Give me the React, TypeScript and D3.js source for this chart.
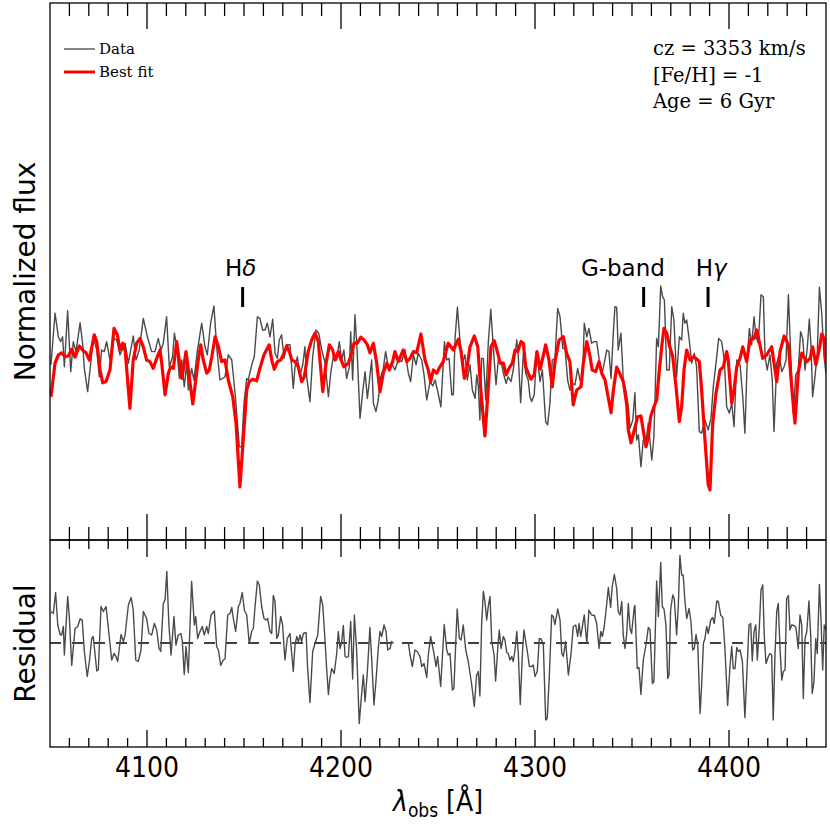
import React from "react";
import * as d3 from "d3";

// ---------------- data ----------------
const dataWave = [
  4050.5, 4052.6, 4054.3, 4055.5, 4056.5, 4057.4, 4059.1, 4060.7, 4062.0, 4063.4, 4065.5, 4066.8, 4067.7, 4069.4, 4071.0, 4072.3,
  4074.1, 4075.4, 4076.6, 4078.0, 4079.2, 4080.9, 4082.6, 4084.4, 4086.1, 4088.7, 4090.4, 4092.9, 4094.3, 4096.0, 4098.1, 4100.2,
  4102.4, 4104.1, 4105.8, 4107.2, 4108.4, 4110.1, 4111.5, 4113.2, 4114.1, 4115.3, 4116.7, 4117.9, 4119.2, 4120.5, 4121.3, 4123.0,
  4124.2, 4125.9, 4128.2, 4129.9, 4131.1, 4132.8, 4134.5, 4135.9, 4137.6, 4140.2, 4141.9, 4143.7, 4145.4, 4147.6, 4148.8, 4150.0,
  4151.4, 4152.2, 4154.0, 4155.3, 4156.9, 4158.2, 4159.6, 4160.8, 4162.0, 4163.4, 4164.8, 4166.0, 4167.2, 4168.2, 4169.4, 4170.6,
  4172.0, 4173.7, 4175.4, 4176.3, 4177.5, 4178.9, 4180.3, 4181.4, 4182.3, 4184.0, 4185.4, 4187.1, 4188.5, 4190.1, 4191.8, 4193.5,
  4194.7, 4196.0, 4197.8, 4199.1, 4200.4, 4201.5, 4202.9, 4204.3, 4205.0, 4206.0, 4207.2, 4208.4, 4209.8, 4211.2, 4212.4, 4213.6,
  4214.6, 4215.8, 4216.7, 4218.0, 4219.2, 4220.5, 4221.8, 4223.0, 4224.4, 4226.1, 4227.8, 4229.5, 4231.3, 4233.0, 4234.7, 4235.9,
  4237.3, 4238.7, 4239.8, 4241.6, 4242.8, 4244.2, 4245.9, 4247.3, 4248.5, 4249.7, 4251.5, 4253.3, 4254.5, 4255.7, 4257.1, 4257.9,
  4258.8, 4260.0, 4261.3, 4262.5, 4263.9, 4265.1, 4266.5, 4267.7, 4269.1, 4270.0, 4270.8, 4271.6, 4272.5, 4273.4, 4274.6, 4275.9,
  4277.2, 4278.5, 4279.9, 4281.1, 4282.5, 4283.7, 4285.1, 4286.2, 4287.6, 4288.8, 4290.6, 4291.4, 4292.6, 4294.0, 4295.2, 4296.5,
  4297.4, 4298.3, 4299.6, 4300.9, 4302.6, 4303.8, 4305.5, 4306.5, 4307.7, 4308.9, 4310.3, 4311.7, 4312.9, 4314.3, 4315.5, 4316.8,
  4318.0, 4319.2, 4320.6, 4322.0, 4323.2, 4324.4, 4325.4, 4326.7, 4327.8, 4329.2, 4330.6, 4331.8, 4333.0, 4334.4, 4335.7, 4337.0,
  4338.1, 4339.2, 4340.4, 4341.2, 4342.1, 4342.9, 4344.3, 4345.5, 4346.8, 4348.1, 4349.0, 4350.4, 4351.5, 4352.4, 4353.3, 4354.6,
  4355.8, 4357.2, 4358.4, 4360.2, 4361.3, 4362.7, 4363.6, 4364.8, 4365.8, 4366.7, 4367.9, 4369.2, 4370.5, 4371.6, 4373.0, 4374.4,
  4375.6, 4376.4, 4377.3, 4378.2, 4379.5, 4380.8, 4382.1, 4383.3, 4384.7, 4385.9, 4387.6, 4389.3, 4390.7, 4391.9, 4393.3, 4394.7,
  4396.2, 4397.6, 4398.8, 4400.2, 4401.4, 4402.6, 4404.0, 4405.7, 4407.1, 4408.2, 4409.4, 4410.5, 4411.7, 4412.9, 4413.9, 4415.1,
  4416.5, 4417.7, 4418.6, 4419.7, 4421.1, 4422.3, 4423.2, 4424.6, 4425.9, 4427.2, 4428.4, 4429.4, 4430.6, 4431.8, 4433.1, 4434.4,
  4435.7, 4436.9, 4438.0, 4439.2, 4440.4, 4441.4, 4442.3, 4443.1, 4444.3, 4445.5, 4446.6, 4447.8, 4449.0, 4450.0,
];
const dataFlux = [
  0.938, 1.067, 1.008, 0.996, 1.008, 0.933, 1.073, 0.921, 0.996, 0.971, 1.043, 0.992, 0.929, 0.871, 0.942, 1.008,
  0.975, 0.908, 0.975, 0.971, 0.996, 0.950, 1.004, 1.000, 0.963, 0.992, 0.942, 1.010, 0.950, 0.975, 1.054, 1.008,
  0.971, 0.971, 1.004, 0.975, 0.992, 1.058, 0.933, 0.958, 1.017, 0.983, 0.904, 0.950, 0.883, 0.942, 0.875, 0.929,
  0.900, 0.971, 1.042, 0.983, 0.963, 1.042, 1.085, 0.983, 0.900, 0.908, 0.963, 0.950, 0.867, 0.733, 0.733, 0.842,
  0.904, 0.900, 0.938, 0.958, 1.058, 1.054, 1.025, 1.025, 1.042, 1.008, 1.052, 0.967, 0.954, 1.000, 1.013, 0.954,
  0.988, 0.988, 0.879, 0.933, 0.958, 0.913, 0.938, 0.983, 0.908, 0.846, 0.958, 1.025, 1.017, 0.975, 0.942, 0.858,
  0.917, 0.958, 0.950, 0.996, 0.950, 0.975, 0.904, 0.933, 1.021, 0.900, 1.063, 0.963, 0.804, 0.871, 0.921, 0.854,
  0.896, 0.950, 0.842, 0.821, 0.850, 0.908, 0.929, 0.971, 0.933, 0.942, 0.925, 0.950, 0.946, 0.975, 0.917, 0.896,
  0.963, 0.938, 0.967, 0.950, 0.913, 0.850, 0.896, 0.885, 0.900, 0.875, 0.833, 0.996, 0.950, 0.954, 0.863, 0.863,
  1.004, 1.082, 1.000, 0.942, 0.963, 0.900, 0.938, 0.875, 0.854, 0.913, 0.883, 0.800, 0.954, 0.954, 0.850, 0.992,
  1.077, 0.983, 0.888, 0.950, 0.946, 0.917, 0.892, 0.908, 0.896, 0.925, 1.000, 0.958, 0.843, 0.967, 0.917, 0.900,
  0.858, 0.846, 0.863, 0.971, 0.896, 0.925, 0.796, 0.788, 0.842, 0.950, 0.954, 1.079, 1.058, 0.979, 0.979, 0.900,
  0.875, 0.892, 0.888, 0.929, 0.900, 0.892, 1.042, 1.008, 1.029, 0.992, 0.996, 0.996, 0.954, 0.913, 0.942, 0.975,
  0.971, 0.904, 1.021, 1.083, 1.082, 0.975, 1.017, 0.900, 0.875, 0.833, 0.779, 0.800, 0.868, 0.750, 0.763, 0.683,
  0.750, 0.746, 0.792, 0.700, 0.758, 1.004, 0.983, 1.135, 1.108, 1.100, 0.925, 0.925, 1.083, 1.050, 0.908, 1.008,
  1.000, 1.067, 1.042, 1.050, 1.000, 0.942, 0.967, 0.933, 0.771, 0.767, 0.800, 0.775, 0.804, 0.883, 0.942, 1.004,
  0.996, 0.950, 0.833, 0.817, 0.842, 0.783, 0.950, 0.938, 0.858, 0.767, 0.950, 1.029, 0.988, 1.058, 1.008, 0.992,
  1.113, 1.108, 0.958, 0.925, 0.963, 0.900, 0.771, 0.942, 0.963, 0.921, 0.933, 0.950, 1.113, 0.967, 0.817, 0.913,
  0.925, 1.021, 1.004, 0.925, 0.983, 1.052, 0.983, 0.858, 0.908, 0.967, 1.132, 1.067, 0.958, 0.917,
];

const fitWave = [
  4050.5, 4052.6, 4054.3, 4056.0, 4057.7, 4059.4, 4061.2, 4062.9, 4065.1, 4067.2, 4068.6, 4070.3, 4072.8, 4074.1, 4075.8, 4077.2,
  4078.9, 4080.9, 4083.0, 4084.7, 4086.1, 4087.5, 4088.8, 4091.2, 4092.9, 4094.7, 4096.4, 4098.1, 4099.8, 4101.5, 4103.2, 4105.0,
  4106.7, 4107.6, 4109.3, 4111.0, 4112.2, 4113.6, 4115.3, 4116.7, 4117.9, 4118.7, 4120.1, 4121.8, 4123.6, 4124.7, 4126.4, 4127.7,
  4129.0, 4130.8, 4132.1, 4133.4, 4135.1, 4136.8, 4138.5, 4140.2, 4141.9, 4144.2, 4145.9, 4147.9, 4149.6, 4151.4, 4152.7, 4154.5,
  4156.5, 4158.2, 4160.3, 4163.0, 4164.3, 4165.6, 4167.2, 4168.9, 4170.3, 4172.0, 4173.4, 4174.6, 4176.3, 4178.0, 4179.7, 4181.1,
  4183.1, 4184.9, 4186.6, 4188.3, 4190.6, 4192.3, 4194.0, 4195.7, 4196.9, 4198.6, 4200.4, 4201.5, 4203.8, 4205.5, 4206.7, 4208.4,
  4210.2, 4211.9, 4213.6, 4214.9, 4216.7, 4218.4, 4220.1, 4221.8, 4223.6, 4224.9, 4226.6, 4227.8, 4229.5, 4232.1, 4233.9, 4235.6,
  4237.3, 4239.0, 4241.2, 4243.3, 4245.0, 4246.2, 4247.6, 4249.3, 4251.0, 4252.7, 4255.3, 4256.7, 4257.9, 4260.5, 4261.9, 4263.6,
  4264.8, 4266.5, 4268.7, 4270.5, 4272.2, 4274.2, 4275.6, 4277.3, 4279.0, 4280.8, 4282.0, 4283.7, 4285.1, 4286.6, 4288.3, 4289.7,
  4291.1, 4292.8, 4294.0, 4295.2, 4296.5, 4297.9, 4299.6, 4301.0, 4302.7, 4305.5, 4307.2, 4308.9, 4310.3, 4312.4, 4314.6, 4316.3,
  4318.0, 4319.7, 4321.5, 4323.7, 4324.9, 4326.7, 4328.4, 4329.5, 4331.3, 4333.0, 4334.4, 4336.1, 4337.5, 4339.2, 4340.4, 4342.1,
  4343.8, 4345.5, 4347.3, 4348.1, 4349.5, 4351.2, 4352.9, 4354.6, 4355.5, 4357.2, 4358.4, 4359.6, 4361.3, 4362.7, 4364.1, 4365.3,
  4366.5, 4367.9, 4369.2, 4371.0, 4372.7, 4374.4, 4375.6, 4376.8, 4378.2, 4379.9, 4381.6, 4383.0, 4384.7, 4385.9, 4387.6, 4389.3,
  4390.2, 4391.6, 4393.3, 4395.4, 4397.1, 4398.8, 4399.6, 4401.4, 4402.6, 4404.0, 4405.7, 4407.1, 4409.1, 4410.8, 4412.9, 4414.3,
  4415.6, 4417.4, 4419.4, 4422.0, 4424.6, 4426.3, 4428.4, 4430.6, 4432.3, 4434.0, 4435.7, 4437.5, 4440.1, 4441.8, 4443.1, 4444.8,
  4446.6, 4447.8, 4449.0, 4450.0,
];
const fitFlux = [
  0.858, 0.942, 0.963, 0.968, 0.958, 0.960, 0.977, 0.957, 0.985, 0.973, 0.968, 0.950, 1.013, 0.996, 0.925, 0.893,
  0.896, 0.925, 1.029, 1.013, 0.975, 0.992, 0.971, 0.829, 0.950, 0.992, 1.004, 0.983, 0.950, 0.946, 0.929, 0.954,
  0.975, 0.942, 0.863, 0.917, 0.933, 0.929, 0.996, 0.946, 0.904, 0.925, 0.971, 0.908, 0.840, 0.883, 0.950, 0.988,
  0.950, 0.917, 0.925, 0.958, 1.008, 0.983, 0.946, 0.950, 0.900, 0.858, 0.792, 0.633, 0.750, 0.875, 0.896, 0.902,
  0.898, 0.929, 0.963, 0.988, 0.950, 0.927, 0.946, 0.950, 0.963, 0.985, 0.971, 0.950, 0.946, 0.933, 0.896, 0.908,
  0.971, 1.000, 1.017, 0.996, 0.871, 0.942, 0.988, 0.975, 0.950, 0.971, 0.946, 0.933, 0.942, 0.967, 0.992, 0.992,
  1.007, 1.000, 0.988, 0.968, 0.992, 0.942, 0.871, 0.917, 0.942, 0.925, 0.946, 0.971, 0.946, 0.975, 0.946, 0.954,
  0.971, 0.968, 1.015, 0.950, 0.925, 0.896, 0.925, 0.917, 0.933, 0.946, 0.992, 0.983, 0.975, 1.002, 0.971, 0.904,
  0.925, 0.983, 1.010, 0.983, 0.867, 0.760, 0.858, 0.983, 0.998, 0.967, 0.942, 0.942, 0.913, 0.929, 0.942, 0.975,
  0.971, 0.996, 0.992, 0.933, 0.917, 0.902, 0.913, 0.971, 0.927, 0.988, 0.950, 0.883, 0.946, 1.000, 1.008, 0.967,
  0.946, 0.838, 0.875, 0.883, 0.942, 0.996, 0.958, 0.925, 0.921, 0.946, 0.917, 0.900, 0.863, 0.818, 0.875, 0.932,
  0.915, 0.896, 0.838, 0.775, 0.743, 0.775, 0.808, 0.810, 0.783, 0.733, 0.758, 0.808, 0.833, 0.850, 0.925, 0.983,
  1.029, 1.017, 0.988, 0.958, 0.883, 0.796, 0.833, 0.925, 0.975, 0.950, 0.958, 0.954, 0.946, 0.875, 0.750, 0.638,
  0.625, 0.792, 0.867, 0.925, 0.933, 0.971, 0.950, 0.842, 0.875, 0.933, 0.954, 0.983, 0.946, 1.000, 1.004, 1.025,
  0.996, 0.954, 0.963, 0.983, 0.896, 0.971, 1.010, 0.988, 0.883, 0.792, 0.917, 0.967, 0.946, 0.954, 0.983, 0.938,
  0.979, 1.015, 1.004, 0.942,
];

// residual: null marks the masked gap (no wavelength entry is consumed by it)
const residWave = [
  4050.5, 4051.7, 4052.9, 4054.0, 4055.2, 4056.0, 4056.9, 4057.4, 4059.1, 4059.9, 4061.2, 4062.9, 4064.3, 4065.5, 4066.6, 4067.7,
  4069.2, 4070.3, 4071.5, 4072.3, 4074.1, 4074.9, 4076.3, 4077.5, 4078.9, 4080.1, 4081.8, 4083.0, 4084.0, 4084.9, 4086.6, 4087.8,
  4088.7, 4090.4, 4091.8, 4092.9, 4094.2, 4095.5, 4096.9, 4098.1, 4099.8, 4101.0, 4102.4, 4103.8, 4105.0, 4106.2, 4107.1, 4108.4,
  4109.3, 4110.2, 4111.3, 4112.4, 4113.9, 4114.9, 4116.1, 4117.5, 4118.2, 4119.2, 4120.1, 4121.3, 4123.0, 4124.4, 4125.1, 4126.1,
  4127.3, 4128.5, 4129.5, 4130.8, 4131.6, 4133.0, 4134.7, 4135.9, 4136.8, 4138.0, 4139.3, 4140.2, 4141.6, 4142.8, 4143.7, 4144.5,
  4145.7, 4147.1, 4147.9, 4149.1, 4150.2, 4150.5, 4151.4, 4152.7, 4154.0, 4154.8, 4155.7, 4156.9, 4157.9, 4159.1, 4160.3, 4161.3,
  4162.2, 4163.4, 4164.3, 4165.1, 4166.0, 4166.9, 4167.7, 4168.9, 4169.9, 4171.1, 4172.3, 4173.7, 4174.6, 4175.4, 4176.3, 4177.2,
  4178.0, 4178.9, 4179.7, 4180.6, 4182.0, 4182.8, 4184.0, 4185.4, 4186.6, 4188.0, 4189.5, 4190.6, 4191.8, 4192.6, 4193.5, 4194.3,
  4195.2, 4196.5, 4197.8, 4198.6, 4199.5, 4200.4, 4201.2, 4202.1, 4202.9, 4203.8, 4205.0, 4206.0, 4206.9, 4208.1, 4209.4, 4210.3,
  4211.5, 4212.4, 4213.6, 4214.9, 4215.8, 4217.0, 4218.0, 4219.2, 4220.1, 4221.0, 4222.2, 4223.2, 4224.1, 4225.3, 4226.1, 4227.0,
  4234.7, 4235.6, 4236.8, 4238.1, 4239.3, 4240.7, 4241.6, 4242.8, 4244.2, 4245.0, 4246.2, 4247.6, 4249.0, 4249.8, 4251.4, 4253.2,
  4254.5, 4255.3, 4256.2, 4257.4, 4258.2, 4259.1, 4259.9, 4261.0, 4261.9, 4263.0, 4264.3, 4265.6, 4267.4, 4268.7, 4269.9, 4270.8,
  4271.6, 4272.5, 4273.4, 4274.2, 4275.1, 4275.9, 4276.8, 4277.7, 4278.9, 4279.7, 4280.8, 4281.6, 4282.5, 4283.7, 4284.5, 4285.4,
  4286.2, 4287.1, 4288.0, 4288.8, 4289.7, 4290.6, 4291.4, 4292.4, 4293.5, 4294.3, 4295.4, 4296.2, 4297.1, 4298.3, 4299.1, 4300.0,
  4301.2, 4302.2, 4303.1, 4304.3, 4305.5, 4306.3, 4307.4, 4308.6, 4309.4, 4310.3, 4311.7, 4312.9, 4313.8, 4314.6, 4315.8, 4317.2,
  4318.6, 4319.7, 4321.0, 4322.0, 4322.7, 4323.6, 4324.6, 4325.4, 4326.7, 4327.8, 4329.2, 4330.6, 4331.8, 4333.0, 4333.9, 4334.7,
  4335.7, 4337.0, 4337.8, 4339.0, 4339.8, 4340.9, 4342.1, 4342.9, 4343.8, 4344.7, 4345.5, 4346.4, 4347.3, 4348.1, 4349.0, 4349.8,
  4351.2, 4351.5, 4352.7, 4353.6, 4354.6, 4355.8, 4357.2, 4358.4, 4359.3, 4360.5, 4361.3, 4362.7, 4363.6, 4364.8, 4365.6, 4366.5,
  4367.5, 4368.4, 4369.1, 4369.9, 4371.0, 4371.8, 4373.0, 4373.9, 4374.7, 4375.6, 4376.4, 4377.3, 4378.2, 4379.4, 4380.4, 4381.3,
  4382.1, 4383.0, 4383.9, 4385.1, 4385.9, 4386.8, 4387.6, 4388.5, 4389.3, 4390.6, 4391.6, 4392.4, 4393.7, 4394.5, 4395.7, 4396.8,
  4397.9, 4399.3, 4400.5, 4401.4, 4402.2, 4403.1, 4404.0, 4404.8, 4405.7, 4406.9, 4408.2, 4409.4, 4410.3, 4411.2, 4412.0, 4412.9,
  4413.8, 4414.6, 4415.6, 4416.5, 4417.4, 4418.2, 4419.1, 4420.3, 4421.1, 4422.0, 4422.8, 4423.7, 4424.6, 4425.4, 4426.3, 4427.2,
  4428.0, 4428.9, 4429.7, 4430.6, 4431.4, 4432.3, 4433.5, 4434.5, 4435.7, 4436.6, 4437.5, 4438.3, 4439.2, 4440.1, 4441.2, 4442.1,
  4442.9, 4443.8, 4444.7, 4445.5, 4446.6, 4447.4, 4448.3, 4449.1, 4450.0,
];
const residValue: (number | null)[] = [
  0.063, 0.059, 0.101, 0.036, 0.017, 0.016, 0.033, -0.024, 0.093, 0.056, -0.045, 0.029, 0.033, 0.048, 0.046, -0.017,
  -0.067, -0.037, 0.009, 0.013, -0.056, -0.054, 0.073, 0.063, 0.073, 0.029, -0.034, -0.021, -0.027, -0.037, 0.017, 0.003,
  0.016, 0.076, 0.091, 0.066, -0.034, -0.037, -0.014, 0.063, 0.049, 0.019, 0.016, 0.039, 0.026, -0.011, -0.017, 0.079,
  0.086, 0.143, 0.036, -0.024, 0.053, -0.004, 0.016, 0.019, 0.003, -0.063, -0.007, -0.059, 0.123, 0.036, 0.053, 0.009,
  0.023, 0.033, 0.016, 0.033, 0.019, 0.056, 0.064, -0.007, -0.014, -0.045, -0.034, -0.032, 0.056, 0.059, 0.071, 0.049,
  0.023, 0.073, 0.079, 0.101, 0.066, 0.063, 0.056, -0.001, 0.024, 0.029, 0.073, 0.124, 0.116, 0.073, 0.049, 0.046,
  0.049, 0.023, 0.019, 0.095, 0.083, 0.009, 0.016, 0.053, 0.036, -0.034, 0.009, 0.019, -0.021, -0.057, -0.004, 0.013,
  0.003, 0.016, 0.003, 0.019, 0.021, -0.051, -0.119, -0.017, -0.001, 0.016, 0.093, 0.076, 0.003, -0.051, -0.103, -0.071,
  -0.051, -0.061, -0.021, 0.023, -0.011, 0.003, 0.035, -0.027, -0.029, -0.027, 0.043, -0.072, 0.056, -0.017, -0.161, -0.117,
  -0.064, -0.117, -0.057, 0.031, -0.031, -0.124, -0.077, -0.011, 0.023, 0.013, 0.036, 0.023, -0.014, -0.011, 0.003, -0.001,
  null,
  0.001, -0.024, -0.047, -0.014, -0.017, -0.027, -0.047, -0.041, -0.069, -0.024, 0.013, -0.014, -0.047, -0.027, -0.087, 0.037,
  -0.014, -0.024, -0.021, -0.094, -0.091, -0.004, 0.068, 0.009, 0.006, 0.036, -0.014, -0.037, -0.084, -0.127, -0.064, -0.057,
  -0.106, 0.039, 0.103, 0.083, 0.046, 0.073, 0.093, 0.003, -0.024, -0.076, -0.011, 0.026, -0.011, 0.013, 0.006, -0.019,
  -0.021, -0.034, -0.027, -0.037, -0.014, 0.023, -0.021, -0.123, -0.021, 0.026, -0.001, -0.021, -0.047, -0.047, -0.044, -0.067,
  -0.056, 0.009, 0.008, -0.004, -0.154, -0.151, -0.064, 0.056, 0.053, 0.037, 0.068, 0.046, -0.021, -0.027, 0.003, -0.064,
  -0.021, 0.033, 0.036, 0.013, 0.039, 0.013, 0.037, 0.056, -0.001, 0.066, 0.056, 0.055, 0.039, -0.011, 0.023, 0.013,
  0.033, 0.079, 0.111, 0.071, 0.113, 0.137, 0.109, 0.063, 0.056, 0.083, 0.016, -0.011, 0.019, 0.079, 0.029, 0.019,
  0.073, 0.075, -0.051, -0.049, -0.103, -0.034, -0.004, 0.031, 0.026, -0.081, -0.077, 0.124, 0.053, 0.161, 0.073, 0.068,
  0.036, -0.071, -0.064, 0.066, 0.096, 0.089, 0.016, 0.076, 0.175, 0.136, 0.136, 0.083, 0.049, 0.069, 0.043, -0.014,
  -0.011, 0.017, -0.004, -0.141, -0.084, -0.001, 0.009, 0.033, 0.019, 0.046, 0.051, 0.039, 0.084, 0.083, 0.056, 0.051,
  -0.011, -0.125, -0.047, -0.007, -0.051, -0.051, -0.009, -0.017, -0.014, -0.037, -0.149, -0.044, 0.036, 0.039, -0.036, 0.023,
  0.036, -0.034, 0.029, 0.106, 0.116, 0.013, -0.041, -0.027, -0.021, -0.024, -0.154, -0.024, 0.063, 0.079, -0.011, -0.074,
  -0.057, -0.054, 0.089, 0.095, 0.026, 0.036, 0.035, 0.031, -0.011, 0.056, 0.036, -0.111, 0.009, 0.023, 0.084, 0.016,
  -0.101, -0.077, 0.009, -0.021, 0.117, 0.049, -0.054, 0.036, 0.026,
];

const majorTicks = [4100, 4200, 4300, 4400];
const featureLabels = ["H", "G-band", "H"];
const featureGreek = ["δ", "", "γ"];
const featureMarkWave = [4149.3, 4356.0, 4389.2];
const featureLabelWave = [4148.3, 4345.3, 4390.8];
const infoLines = ["cz = 3353 km/s", "[Fe/H] = -1", "Age = 6 Gyr"];
const legendNames = ["Data", "Best fit"];

// ---------------- layout ----------------
const W = 830;
const H = 830;
const left = 50;
const right = 826;
const topY = 3;
const midY = 540;
const botY = 747;

const SANS = "'DejaVu Sans', 'Noto Sans', sans-serif";
const SANS_COND = "'DejaVu Sans Condensed', 'DejaVu Sans', sans-serif";
const SERIF = "'DejaVu Serif', 'Liberation Serif', serif";
const GRAY = "#4a4a4a";
const RED = "#ff0000";

export default function App() {
  const x = d3.scaleLinear().domain([4050, 4450]).range([left, right]);
  const yTop = d3.scaleLinear().domain([0.5, 1.8425]).range([midY, topY]);
  const yRes = d3.scaleLinear().domain([-0.208, 0.206]).range([botY, midY]);

  const dataPts = dataWave.map((w, i) => [w, dataFlux[i]] as [number, number]);
  const fitPts = fitWave.map((w, i) => [w, fitFlux[i]] as [number, number]);

  const resSeries: [number, number | null][] = [];
  let wi = 0;
  for (let i = 0; i < residValue.length; i++) {
    if (residValue[i] === null) {
      resSeries.push([NaN, null]);
    } else {
      resSeries.push([residWave[wi], residValue[i]]);
      wi++;
    }
  }

  const lineTop = d3
    .line<[number, number]>()
    .x((d) => x(d[0]))
    .y((d) => yTop(d[1]));
  const lineRes = d3
    .line<[number, number | null]>()
    .defined((d) => d[1] !== null)
    .x((d) => x(d[0]))
    .y((d) => yRes(d[1] as number));

  const minorTicks = d3.range(4060, 4450, 10).filter((t) => t % 100 !== 0);

  const tick = (t: number, y0: number, dir: number, len: number, key: string) => (
    <line key={key} x1={x(t)} x2={x(t)} y1={y0} y2={y0 + dir * len} stroke="#000" strokeWidth={1.3} />
  );

  return (
    <svg width={W} height={H} style={{ position: "absolute", left: 0, top: 0, background: "#fff" }}>
      <rect x={0} y={0} width={W} height={H} fill="#fff" />
      <defs>
        <clipPath id="clipTop">
          <rect x={left} y={topY} width={right - left} height={midY - topY} />
        </clipPath>
        <clipPath id="clipRes">
          <rect x={left} y={midY} width={right - left} height={botY - midY} />
        </clipPath>
      </defs>

      <g clipPath="url(#clipTop)">
        <path d={lineTop(dataPts) || ""} fill="none" stroke={GRAY} strokeWidth={1.4} strokeLinejoin="round" />
        <path d={lineTop(fitPts) || ""} fill="none" stroke={RED} strokeWidth={3.2} strokeLinejoin="round" />
      </g>

      <g clipPath="url(#clipRes)">
        <line x1={left} x2={right} y1={yRes(0)} y2={yRes(0)} stroke="#000" strokeWidth={1.3} strokeDasharray="11 11" />
        <path d={lineRes(resSeries) || ""} fill="none" stroke={GRAY} strokeWidth={1.4} strokeLinejoin="round" />
      </g>

      <rect x={left} y={topY} width={right - left} height={midY - topY} fill="none" stroke="#000" strokeWidth={1.3} />
      <rect x={left} y={midY} width={right - left} height={botY - midY} fill="none" stroke="#000" strokeWidth={1.3} />

      {minorTicks.map((t) => tick(t, topY, 1, 13, "tt" + t))}
      {majorTicks.map((t) => tick(t, topY, 1, 26, "tT" + t))}
      {minorTicks.map((t) => tick(t, midY, -1, 13, "tb" + t))}
      {majorTicks.map((t) => tick(t, midY, -1, 26, "tB" + t))}
      {minorTicks.map((t) => tick(t, midY, 1, 9, "rt" + t))}
      {majorTicks.map((t) => tick(t, midY, 1, 17, "rT" + t))}
      {minorTicks.map((t) => tick(t, botY, -1, 9, "rb" + t))}
      {majorTicks.map((t) => tick(t, botY, -1, 17, "rB" + t))}

      {majorTicks.map((t) => (
        <text key={"lab" + t} x={x(t)} y={777} textAnchor="middle" fontFamily={SANS_COND} fontSize={28} fill="#000">
          {t}
        </text>
      ))}

      <text x={(left + right) / 2} y={811} textAnchor="middle" fontFamily={SANS_COND} fontSize={28} fill="#000">
        <tspan fontStyle="italic">λ</tspan>
        <tspan fontSize={19} dy={6}>obs</tspan>
        <tspan dy={-6}> [Å]</tspan>
      </text>

      <text transform={`translate(35, ${(topY + midY) / 2}) rotate(-90)`} textAnchor="middle" fontFamily={SANS} fontSize={28} fill="#000">
        Normalized flux
      </text>
      <text transform={`translate(35, ${(midY + botY) / 2}) rotate(-90)`} textAnchor="middle" fontFamily={SANS} fontSize={28} fill="#000">
        Residual
      </text>

      {featureMarkWave.map((w, i) => (
        <line key={"fm" + i} x1={x(w)} x2={x(w)} y1={yTop(1.1325)} y2={yTop(1.0825)} stroke="#000" strokeWidth={3} />
      ))}
      {featureLabelWave.map((w, i) => (
        <text key={"fl" + i} x={x(w)} y={yTop(1.16)} textAnchor="middle" fontFamily={SANS} fontSize={23} fill="#000">
          {featureLabels[i]}
          {featureGreek[i] ? <tspan fontStyle="italic">{featureGreek[i]}</tspan> : null}
        </text>
      ))}

      <line x1={64} x2={95} y1={49} y2={49} stroke={GRAY} strokeWidth={1.3} />
      <line x1={64} x2={95} y1={72} y2={72} stroke={RED} strokeWidth={3} />
      <text x={99} y={54} fontFamily={SERIF} fontSize={15} fill="#000">
        {legendNames[0]}
      </text>
      <text x={99} y={77} fontFamily={SERIF} fontSize={15} fill="#000">
        {legendNames[1]}
      </text>

      {infoLines.map((s, i) => (
        <text key={"info" + i} x={653} y={55 + i * 26.7} fontFamily={SERIF} fontSize={19.5} fill="#000">
          {s}
        </text>
      ))}
    </svg>
  );
}
